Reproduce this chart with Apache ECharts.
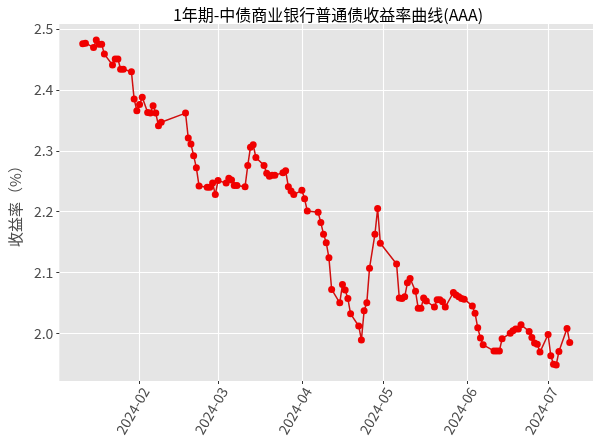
<!DOCTYPE html>
<html>
<head>
<meta charset="utf-8">
<script src="https://cdn.jsdelivr.net/npm/echarts@6/dist/echarts.min.js"></script>
<style>html,body{margin:0;padding:0;background:#fff;}#c{width:600px;height:443px;}</style>
</head>
<body>
<div id="c"></div>
<script>
var dates = ['2024-01-11','2024-01-12','2024-01-15','2024-01-16','2024-01-17','2024-01-18','2024-01-19',
'2024-01-22','2024-01-23','2024-01-24','2024-01-25','2024-01-26','2024-01-29','2024-01-30','2024-01-31',
'2024-02-01','2024-02-02','2024-02-04','2024-02-05','2024-02-06','2024-02-07','2024-02-08','2024-02-09',
'2024-02-18','2024-02-19','2024-02-20','2024-02-21','2024-02-22','2024-02-23','2024-02-26','2024-02-27',
'2024-02-28','2024-02-29','2024-03-01','2024-03-04','2024-03-05','2024-03-06','2024-03-07','2024-03-08',
'2024-03-11','2024-03-12','2024-03-13','2024-03-14','2024-03-15','2024-03-18','2024-03-19','2024-03-20',
'2024-03-21','2024-03-22','2024-03-25','2024-03-26','2024-03-27','2024-03-28','2024-03-29','2024-04-01',
'2024-04-02','2024-04-03','2024-04-07','2024-04-08','2024-04-09','2024-04-10','2024-04-11','2024-04-12',
'2024-04-15','2024-04-16','2024-04-17','2024-04-18','2024-04-19','2024-04-22','2024-04-23','2024-04-24',
'2024-04-25','2024-04-26','2024-04-28','2024-04-29','2024-04-30','2024-05-06','2024-05-07','2024-05-08',
'2024-05-09','2024-05-10','2024-05-11','2024-05-13','2024-05-14','2024-05-15','2024-05-16','2024-05-17',
'2024-05-20','2024-05-21','2024-05-22','2024-05-23','2024-05-24','2024-05-27','2024-05-28','2024-05-29',
'2024-05-30','2024-05-31','2024-06-03','2024-06-04','2024-06-05','2024-06-06','2024-06-07','2024-06-11',
'2024-06-12','2024-06-13','2024-06-14','2024-06-17','2024-06-18','2024-06-19','2024-06-20','2024-06-21',
'2024-06-24','2024-06-25','2024-06-26','2024-06-27','2024-06-28','2024-07-01','2024-07-02','2024-07-03',
'2024-07-04','2024-07-05','2024-07-08','2024-07-09'];
var yields = [2.476,2.477,2.470,2.482,2.475,2.475,2.459,
2.441,2.451,2.451,2.434,2.434,2.430,2.385,2.366,
2.376,2.388,2.363,2.362,2.374,2.362,2.341,2.347,
2.362,2.321,2.311,2.292,2.272,2.242,2.240,2.240,
2.247,2.228,2.251,2.247,2.255,2.252,2.243,2.243,
2.241,2.276,2.306,2.310,2.289,2.276,2.263,2.258,
2.260,2.260,2.264,2.267,2.241,2.234,2.228,2.235,
2.221,2.201,2.199,2.182,2.163,2.149,2.124,2.072,
2.050,2.080,2.071,2.057,2.032,2.012,1.989,2.037,
2.050,2.107,2.163,2.205,2.148,2.114,2.058,2.057,
2.060,2.083,2.090,2.069,2.041,2.041,2.058,2.053,
2.043,2.055,2.055,2.052,2.043,2.067,2.063,2.060,
2.057,2.056,2.045,2.033,2.009,1.992,1.981,1.971,
1.971,1.971,1.991,2.000,2.004,2.007,2.007,2.014,
2.003,1.993,1.984,1.982,1.969,1.998,1.963,1.949,
1.948,1.970,2.008,1.985];
var xTickLabels = ['2024-02','2024-03','2024-04','2024-05','2024-06','2024-07'];
var yTickValues = [2.0,2.1,2.2,2.3,2.4,2.5];

function ts(s){var p=s.split('-');return Date.UTC(+p[0],+p[1]-1,p[2]?+p[2]:1);}
var xTicks = xTickLabels.map(function(s){return ts(s);});
var seriesData = dates.map(function(d,i){return [ts(d), yields[i]];});
var DAY = 86400000;
var xMin = ts('2024-01-01') + 1.35*DAY;
var xMax = ts('2024-01-01') + 198.6*DAY;

var chart = echarts.init(document.getElementById('c'));
chart.setOption({
  backgroundColor:'#ffffff',
  animation:false,
  title:{
    text:'1年期-中债商业银行普通债收益率曲线(AAA)',
    left:323, top:2, textAlign:'center',
    textStyle:{fontFamily:'Noto Sans CJK JP', fontSize:16, fontWeight:'normal', color:'#000'}
  },
  grid:{left:54, right:7, top:24, bottom:62, show:true, backgroundColor:'#E5E5E5', borderWidth:0},
  xAxis:{
    type:'value', min:xMin, max:xMax,
    axisLine:{show:false},
    axisTick:{show:true, length:3, lineStyle:{color:'#333', width:1}, customValues:xTicks},
    axisLabel:{
      customValues:xTicks, rotate:60, fontSize:14, color:'#4D4D4D',
      fontFamily:'Noto Sans CJK JP', margin:4, align:'right', verticalAlign:'top',
      formatter:function(v){var d=new Date(v);var m=d.getUTCMonth()+1;return d.getUTCFullYear()+'-'+(m<10?'0'+m:m);}
    },
    splitLine:{show:true, lineStyle:{color:'#FFFFFF', width:1.1}}
  },
  yAxis:{
    type:'value', min:1.9215, max:2.5085,
    name:'收益率（%）', nameLocation:'middle', nameGap:33, nameRotate:90,
    nameTextStyle:{fontFamily:'Noto Sans CJK JP', fontSize:15, color:'#4D4D4D'},
    axisLine:{show:false},
    axisTick:{show:true, length:3, lineStyle:{color:'#333', width:1}, customValues:yTickValues},
    axisLabel:{customValues:yTickValues, fontSize:14, color:'#4D4D4D', fontFamily:'Noto Sans CJK JP', margin:6,
      formatter:function(v){return v.toFixed(1);}},
    splitLine:{show:true, lineStyle:{color:'#FFFFFF', width:1.1}}
  },
  series:[{
    type:'line', data:seriesData, showAllSymbol:true,
    symbol:'circle', symbolSize:7,
    itemStyle:{color:'#F00000'},
    lineStyle:{color:'#D01010', width:1.5}
  }]
});
</script>
</body>
</html>
